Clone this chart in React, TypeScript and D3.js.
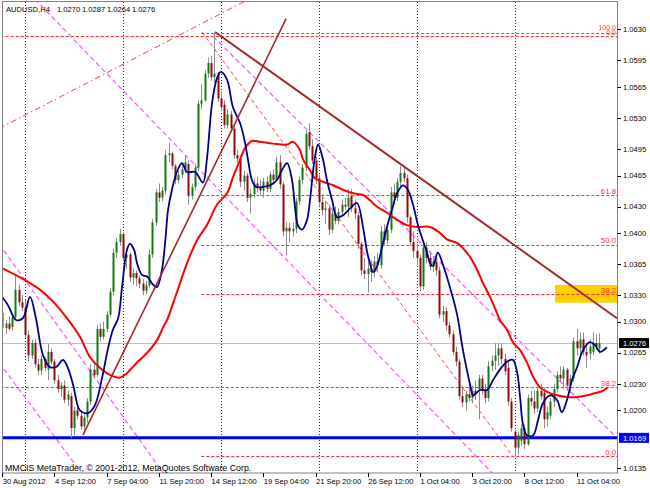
import React from "react";
import * as d3 from "d3";

// ---------- DATA ----------
const symbolTitle = "AUDUSD,H4";
const lastBarValues = ["1.0270", "1.0287", "1.0264", "1.0276"];
const copyright = "MMCIS MetaTrader, \u00A9 2001-2012, MetaQuotes Software Corp.";

// H4 candles: [open, high, low, close]
const candles: [number, number, number, number][] = [
  [1.0310, 1.0318, 1.0288, 1.0293], [1.0293, 1.0302, 1.0286, 1.0298], [1.0298, 1.0306, 1.0290, 1.0292],
  [1.0294, 1.0310, 1.0290, 1.0305], [1.0305, 1.0352, 1.0302, 1.0336], [1.0336, 1.0342, 1.0318, 1.0322],
  [1.0322, 1.0330, 1.0312, 1.0316], [1.0316, 1.0325, 1.0282, 1.0285], [1.0285, 1.0290, 1.0255, 1.0262],
  [1.0262, 1.0280, 1.0258, 1.0276], [1.0276, 1.0280, 1.0248, 1.0252], [1.0252, 1.0258, 1.0240, 1.0245],
  [1.0245, 1.0262, 1.0240, 1.0258], [1.0258, 1.0260, 1.0244, 1.0248], [1.0246, 1.0275, 1.0234, 1.0266],
  [1.0266, 1.0270, 1.0252, 1.0255], [1.0255, 1.0258, 1.0230, 1.0234], [1.0234, 1.0240, 1.0220, 1.0224],
  [1.0224, 1.0232, 1.0215, 1.0228], [1.0228, 1.0234, 1.0208, 1.0212], [1.0212, 1.0222, 1.0205, 1.0218],
  [1.0216, 1.0220, 1.0169, 1.0180], [1.0180, 1.0204, 1.0172, 1.0200], [1.0200, 1.0208, 1.0190, 1.0194],
  [1.0194, 1.0200, 1.0178, 1.0182], [1.0182, 1.0198, 1.0174, 1.0192], [1.0192, 1.0214, 1.0186, 1.0210],
  [1.0210, 1.0252, 1.0206, 1.0246], [1.0246, 1.0256, 1.0236, 1.0240], [1.0240, 1.0296, 1.0238, 1.0292],
  [1.0292, 1.0298, 1.0278, 1.0283], [1.0283, 1.0300, 1.0280, 1.0292], [1.0292, 1.0312, 1.0288, 1.0308],
  [1.0308, 1.0338, 1.0305, 1.0334], [1.0334, 1.0382, 1.0330, 1.0378], [1.0378, 1.0395, 1.0372, 1.0390],
  [1.0390, 1.0405, 1.0386, 1.0399], [1.0399, 1.0401, 1.0368, 1.0372], [1.0372, 1.0382, 1.0360, 1.0376],
  [1.0376, 1.0378, 1.0345, 1.0350], [1.0350, 1.0360, 1.0342, 1.0355], [1.0355, 1.0358, 1.0340, 1.0349],
  [1.0349, 1.0352, 1.0338, 1.0343], [1.0343, 1.0348, 1.0330, 1.0335], [1.0335, 1.0346, 1.0331, 1.0341],
  [1.0341, 1.0382, 1.0338, 1.0376], [1.0376, 1.0416, 1.0372, 1.0412], [1.0412, 1.0450, 1.0408, 1.0446],
  [1.0446, 1.0456, 1.0435, 1.0440], [1.0440, 1.0452, 1.0436, 1.0448], [1.0448, 1.0494, 1.0444, 1.0488],
  [1.0488, 1.0502, 1.0480, 1.0490], [1.0490, 1.0492, 1.0472, 1.0476], [1.0476, 1.0478, 1.0455, 1.0460],
  [1.0460, 1.0470, 1.0456, 1.0466], [1.0466, 1.0478, 1.0462, 1.0472], [1.0472, 1.0488, 1.0468, 1.0480],
  [1.0478, 1.0482, 1.0432, 1.0442], [1.0442, 1.0456, 1.0438, 1.0452], [1.0452, 1.0478, 1.0448, 1.0474],
  [1.0474, 1.0550, 1.0470, 1.0546], [1.0546, 1.0568, 1.0540, 1.0550], [1.0550, 1.0584, 1.0548, 1.0580],
  [1.0580, 1.0598, 1.0575, 1.0592], [1.0592, 1.0600, 1.0572, 1.0576], [1.0576, 1.0626, 1.0570, 1.0580],
  [1.0580, 1.0582, 1.0548, 1.0552], [1.0552, 1.0560, 1.0538, 1.0542], [1.0545, 1.0550, 1.0518, 1.0522],
  [1.0522, 1.0540, 1.0518, 1.0534], [1.0534, 1.0538, 1.0514, 1.0518], [1.0518, 1.0522, 1.0484, 1.0488],
  [1.0488, 1.0494, 1.0480, 1.0484], [1.0484, 1.0488, 1.0452, 1.0458], [1.0458, 1.0470, 1.0448, 1.0465],
  [1.0465, 1.0468, 1.0435, 1.0440], [1.0440, 1.0450, 1.0422, 1.0444], [1.0444, 1.0462, 1.0440, 1.0456],
  [1.0456, 1.0464, 1.0446, 1.0452], [1.0452, 1.0460, 1.0442, 1.0448], [1.0448, 1.0462, 1.0440, 1.0458],
  [1.0458, 1.0464, 1.0446, 1.0450], [1.0450, 1.0470, 1.0446, 1.0466], [1.0466, 1.0472, 1.0455, 1.0460],
  [1.0460, 1.0486, 1.0458, 1.0480], [1.0480, 1.0488, 1.0450, 1.0455], [1.0455, 1.0458, 1.0396, 1.0402],
  [1.0402, 1.0412, 1.0375, 1.0406], [1.0406, 1.0412, 1.0390, 1.0402], [1.0402, 1.0412, 1.0396, 1.0405],
  [1.0405, 1.0440, 1.0400, 1.0436], [1.0436, 1.0464, 1.0432, 1.0460], [1.0460, 1.0478, 1.0455, 1.0474],
  [1.0474, 1.0516, 1.0470, 1.0512], [1.0514, 1.0524, 1.0494, 1.0498], [1.0498, 1.0506, 1.0478, 1.0482],
  [1.0482, 1.0486, 1.0455, 1.0462], [1.0462, 1.0466, 1.0430, 1.0435], [1.0435, 1.0444, 1.0420, 1.0426],
  [1.0426, 1.0436, 1.0410, 1.0428], [1.0428, 1.0432, 1.0398, 1.0404], [1.0404, 1.0428, 1.0400, 1.0422],
  [1.0422, 1.0430, 1.0410, 1.0414], [1.0414, 1.0428, 1.0410, 1.0424], [1.0424, 1.0438, 1.0420, 1.0432],
  [1.0432, 1.0440, 1.0426, 1.0430], [1.0430, 1.0450, 1.0418, 1.0440], [1.0442, 1.0450, 1.0424, 1.0428],
  [1.0428, 1.0438, 1.0416, 1.0422], [1.0420, 1.0424, 1.0382, 1.0388], [1.0388, 1.0390, 1.0352, 1.0358],
  [1.0358, 1.0372, 1.0348, 1.0354], [1.0354, 1.0368, 1.0333, 1.0360], [1.0360, 1.0370, 1.0345, 1.0356],
  [1.0356, 1.0374, 1.0350, 1.0368], [1.0368, 1.0378, 1.0358, 1.0364], [1.0364, 1.0408, 1.0360, 1.0402],
  [1.0402, 1.0410, 1.0386, 1.0392], [1.0392, 1.0410, 1.0388, 1.0404], [1.0404, 1.0452, 1.0400, 1.0446],
  [1.0446, 1.0456, 1.0432, 1.0440], [1.0440, 1.0462, 1.0436, 1.0458], [1.0458, 1.0476, 1.0452, 1.0468],
  [1.0468, 1.0474, 1.0458, 1.0462], [1.0462, 1.0466, 1.0412, 1.0418], [1.0418, 1.0420, 1.0386, 1.0390],
  [1.0390, 1.0402, 1.0372, 1.0380], [1.0380, 1.0388, 1.0364, 1.0372], [1.0372, 1.0376, 1.0334, 1.0340],
  [1.0340, 1.0388, 1.0336, 1.0384], [1.0384, 1.0390, 1.0366, 1.0372], [1.0372, 1.0380, 1.0358, 1.0362],
  [1.0362, 1.0374, 1.0356, 1.0368], [1.0368, 1.0372, 1.0352, 1.0358], [1.0358, 1.0362, 1.0304, 1.0308],
  [1.0308, 1.0318, 1.0300, 1.0312], [1.0312, 1.0316, 1.0290, 1.0296], [1.0296, 1.0300, 1.0282, 1.0286],
  [1.0286, 1.0290, 1.0262, 1.0266], [1.0266, 1.0272, 1.0250, 1.0255], [1.0255, 1.0258, 1.0212, 1.0216],
  [1.0216, 1.0228, 1.0204, 1.0209], [1.0209, 1.0222, 1.0200, 1.0218], [1.0218, 1.0230, 1.0210, 1.0214],
  [1.0214, 1.0228, 1.0208, 1.0222], [1.0222, 1.0234, 1.0212, 1.0218], [1.0224, 1.0240, 1.0190, 1.0236],
  [1.0236, 1.0240, 1.0218, 1.0224], [1.0224, 1.0230, 1.0208, 1.0214], [1.0214, 1.0256, 1.0210, 1.0250],
  [1.0250, 1.0262, 1.0244, 1.0256], [1.0256, 1.0276, 1.0246, 1.0262], [1.0262, 1.0276, 1.0250, 1.0270],
  [1.0270, 1.0276, 1.0252, 1.0258], [1.0258, 1.0264, 1.0240, 1.0244], [1.0248, 1.0256, 1.0205, 1.0210],
  [1.0210, 1.0214, 1.0176, 1.0180], [1.0176, 1.0178, 1.0148, 1.0158], [1.0158, 1.0176, 1.0150, 1.0172],
  [1.0166, 1.0184, 1.0160, 1.0180], [1.0180, 1.0184, 1.0156, 1.0162], [1.0162, 1.0218, 1.0160, 1.0214],
  [1.0214, 1.0222, 1.0205, 1.0210], [1.0210, 1.0222, 1.0196, 1.0202], [1.0202, 1.0226, 1.0198, 1.0222],
  [1.0222, 1.0230, 1.0212, 1.0216], [1.0220, 1.0226, 1.0180, 1.0190], [1.0190, 1.0204, 1.0182, 1.0198],
  [1.0194, 1.0214, 1.0190, 1.0210], [1.0210, 1.0230, 1.0204, 1.0224], [1.0224, 1.0244, 1.0220, 1.0240],
  [1.0240, 1.0250, 1.0232, 1.0236], [1.0236, 1.0250, 1.0224, 1.0246], [1.0246, 1.0248, 1.0222, 1.0228],
  [1.0228, 1.0240, 1.0220, 1.0236], [1.0236, 1.0282, 1.0232, 1.0278], [1.0278, 1.0292, 1.0262, 1.0270],
  [1.0270, 1.0288, 1.0264, 1.0280], [1.0280, 1.0288, 1.0262, 1.0266], [1.0266, 1.0276, 1.0248, 1.0262],
  [1.0264, 1.0280, 1.0258, 1.0272], [1.0266, 1.0288, 1.0262, 1.0276], [1.0276, 1.0286, 1.0268, 1.0272],
  [1.0270, 1.0287, 1.0264, 1.0276],
];

// Fast moving average (navy) : [bar index, price]
const blueMA: [number, number][] = [
  [0, 1.0328], [1.7, 1.0319], [4.2, 1.0302], [6.3, 1.0304], [8.5, 1.0328], [10.3, 1.0304], [12.5, 1.0262],
  [14.6, 1.0249], [16.5, 1.0249], [18.6, 1.0257], [20.1, 1.0248], [21.7, 1.0229], [23.8, 1.0200], [26.3, 1.0197],
  [28.4, 1.0206], [30.6, 1.0237], [32.4, 1.0270], [33.9, 1.0291], [35.5, 1.0304], [36.7, 1.0339], [38.2, 1.0381],
  [39.1, 1.0388], [40.4, 1.0381], [41.3, 1.0366], [42.8, 1.0353], [44.4, 1.0351], [46.2, 1.0342], [47.4, 1.0339],
  [48.9, 1.0358], [49.9, 1.0389], [50.8, 1.0426], [52, 1.0449], [53.5, 1.0469], [55.1, 1.0479], [56.6, 1.0469],
  [59.1, 1.0469], [61.5, 1.0457], [62.7, 1.0483], [64.3, 1.0547], [65.8, 1.0575], [67, 1.0582], [68.9, 1.0573],
  [70.7, 1.0542], [72.9, 1.0524], [74.4, 1.0502], [75.3, 1.0483], [76.5, 1.0460], [77.8, 1.0452], [79.6, 1.0452],
  [82.1, 1.0454], [84.2, 1.0460], [85.7, 1.0471], [87.3, 1.0479], [88.8, 1.0460], [89.7, 1.0430], [90.6, 1.0409],
  [91.9, 1.0404], [93.4, 1.0415], [94.3, 1.0437], [95.2, 1.0468], [95.8, 1.0485], [96.8, 1.0500], [98.3, 1.0483],
  [99.5, 1.0460], [101.1, 1.0437], [102.6, 1.0418], [104.4, 1.0420], [106.6, 1.0428], [108.7, 1.0434],
  [110.6, 1.0406], [111.8, 1.0379], [112.7, 1.0366], [113.6, 1.0356], [114.8, 1.0362], [116.4, 1.0384],
  [117.9, 1.0407], [119.4, 1.0426], [121, 1.0445], [122.8, 1.0454], [124.3, 1.0449], [125.9, 1.0432],
  [127.4, 1.0409], [128.9, 1.0392], [130.2, 1.0378], [131.1, 1.0366], [132, 1.0363], [133.5, 1.0378],
  [135.1, 1.0364], [137.2, 1.0339], [139.4, 1.0308], [141.2, 1.0268], [143.4, 1.0229], [144.3, 1.0217],
  [146.4, 1.0223], [148.6, 1.0223], [150.4, 1.0234], [152.5, 1.0246], [154.7, 1.0255], [156.5, 1.0257],
  [157.8, 1.0243], [158.7, 1.0215], [159.6, 1.0184], [160.8, 1.0172], [162.7, 1.0172], [164.2, 1.0189],
  [165.7, 1.0208], [167.9, 1.0217], [170, 1.0212], [171.5, 1.0198], [173.1, 1.0212], [174.6, 1.0234],
  [176.2, 1.0249], [178, 1.0268], [180.1, 1.0277], [181.6, 1.0274], [183.2, 1.0266], [185.3, 1.0271],
];

// Slow moving average (red) : [bar index, price]
const redMA: [number, number][] = [
  [0.2, 1.0360], [7, 1.0347], [11.6, 1.0336], [15.5, 1.0323], [19.8, 1.0304], [23.8, 1.0283], [26.9, 1.0260],
  [29.9, 1.0248], [33, 1.0240], [36.1, 1.0237], [38.2, 1.0242], [41.3, 1.0254], [44.4, 1.0265], [47.4, 1.0279],
  [49.3, 1.0294], [50.5, 1.0302], [53.5, 1.0333], [56.6, 1.0366], [59.7, 1.0392], [62.7, 1.0409], [65.8, 1.0432],
  [68.9, 1.0445], [70.7, 1.0463], [72.9, 1.0483], [74.4, 1.0496], [76.5, 1.0504], [79, 1.0503], [83, 1.0501],
  [87.3, 1.0500], [89.1, 1.0503], [91.2, 1.0494], [92.2, 1.0483], [94.3, 1.0471], [95.8, 1.0462], [98.3, 1.0458],
  [101.4, 1.0454], [104.4, 1.0449], [107.5, 1.0445], [110.6, 1.0443], [112.7, 1.0437], [114.8, 1.0430],
  [117.9, 1.0423], [121, 1.0415], [124, 1.0409], [127.1, 1.0407], [131.1, 1.0407], [134.2, 1.0400],
  [136.3, 1.0393], [139.4, 1.0389], [141.2, 1.0383], [143.4, 1.0373], [145.5, 1.0359], [147.3, 1.0344],
  [149.5, 1.0328], [151.6, 1.0310], [152.5, 1.0302], [154.7, 1.0291], [156.5, 1.0277], [158.7, 1.0268],
  [160.8, 1.0254], [162.7, 1.0238], [164.8, 1.0226], [167, 1.0221], [170, 1.0217], [173.1, 1.0215],
  [176.2, 1.0215], [179.2, 1.0217], [182.3, 1.0220], [184.1, 1.0222], [185.6, 1.0226],
];

const priceTicks = [1.0630, 1.0595, 1.0565, 1.0530, 1.0495, 1.0465, 1.0430, 1.0400, 1.0365, 1.0330,
  1.0300, 1.0265, 1.0230, 1.0200, 1.0135];
const dateTickBars = [0, 16, 32, 48, 64, 80, 96, 112, 128, 144, 160, 176];
const dateTickLabels = ["30 Aug 2012", "4 Sep 12:00", "7 Sep 04:00", "11 Sep 20:00", "14 Sep 12:00",
  "19 Sep 04:00", "21 Sep 20:00", "26 Sep 12:00", "1 Oct 04:00", "3 Oct 20:00", "8 Oct 12:00", "11 Oct 04:00"];
const weekStartBars = [7, 37, 67, 97, 127, 157];

// Fibonacci levels: label, price, first bar, label lift above the line, label size
const fibLevels = [
  { label: "100.0", price: 1.0626, from: 61, lift: 3, size: 7 },
  { label: "61.8", price: 1.0443, from: 61, lift: 1.5, size: 7.8 },
  { label: "50.0", price: 1.0387, from: 61, lift: 1.5, size: 7.8 },
  { label: "38.2", price: 1.0331, from: 61, lift: 1.5, size: 7.8 },
  { label: "0.0", price: 1.0148, from: 61, lift: 1.5, size: 7.8 },
  { label: "0.0", price: 1.0623, from: -2, lift: 0.2, size: 7 },
  { label: "38.2", price: 1.0226, from: -2, lift: 1.5, size: 7.8 },
];

// Trend lines: [bar1, price1, bar2, price2]
const resistanceLine = [65.2, 1.0627, 188.4, 1.0304];
const supportLine = [24.7, 1.0172, 87.0, 1.0642];
const dashDotLine = [-1, 1.0518, 74.5, 1.0662];
const fibBaseLine = [61.2, 1.0627, 156.5, 1.0148];
const channelLines = [
  [10, 1.0664, 155, 1.0111],
  [64.6, 1.0622, 190, 1.0163],
  [-1, 1.0388, 50, 1.0126],
  [-1, 1.0254, 24, 1.0131],
];
const zoneBox = { fromBar: 169.4, toBar: 192, top: 1.03415, bottom: 1.03215 };
const supportLevel = 1.0169;
const bidPrice = 1.0276;

// ---------- CHART ----------
const FONT = "'Liberation Sans', Arial, sans-serif";
const PL = 2, PR = 617.5, PT = 2, PB = 473;

export default function App() {
  const x = d3.scaleLinear().domain([0, 183]).range([2.3, 2.3 + 183 * 3.2625]);
  const y = d3.scaleLinear().domain([1.0135, 1.0630]).range([468, 29.3]);

  const maLine = d3.line<[number, number]>()
    .x((d) => x(d[0]))
    .y((d) => y(d[1]))
    .curve(d3.curveCatmullRom.alpha(0.5));

  const seg = (l: number[]) => ({ x1: x(l[0]), y1: y(l[1]), x2: x(l[2]), y2: y(l[3]) });

  return (
    <svg width={650} height={488} style={{ position: "absolute", left: 0, top: 0, background: "#fff" }}
      fontFamily={FONT}>
      <defs>
        <clipPath id="plot">
          <rect x={PL} y={PT} width={PR - PL} height={PB - PT} />
        </clipPath>
      </defs>
      <rect x={0} y={0} width={650} height={488} fill="#fff" />

      <g clipPath="url(#plot)">
        {/* week grid */}
        {weekStartBars.map((b) => (
          <line key={"g" + b} x1={Math.round(x(b)) + 0.5} x2={Math.round(x(b)) + 0.5} y1={PT} y2={PB}
            stroke="#333" strokeWidth={1} strokeDasharray="1,2" />
        ))}

        {/* yellow zone */}
        <rect x={x(zoneBox.fromBar)} y={y(zoneBox.top)} width={x(zoneBox.toBar) - x(zoneBox.fromBar)}
          height={y(zoneBox.bottom) - y(zoneBox.top)} fill="#FFD000" />

        {/* fib levels */}
        {fibLevels.map((f, k) => (
          <line key={"f" + k} x1={x(f.from)} x2={PR} y1={Math.round(y(f.price)) + 0.5} y2={Math.round(y(f.price)) + 0.5}
            stroke="#FF3030" strokeWidth={1} strokeDasharray="3,2" />
        ))}

        {/* channel lines */}
        {channelLines.map((l, k) => (
          <line key={"c" + k} {...seg(l)} stroke="#FF55FF" strokeWidth={1.2} strokeDasharray="5,3" />
        ))}

        {/* dash-dot line and fib base */}
        <line {...seg(dashDotLine)} stroke="#FF4040" strokeWidth={1} strokeDasharray="6,3,1.5,3" />
        <line {...seg(fibBaseLine)} stroke="#FF4040" strokeWidth={1} strokeDasharray="4,3" />

        {/* bid line */}
        <line x1={PL} x2={PR} y1={Math.round(y(bidPrice)) + 0.5} y2={Math.round(y(bidPrice)) + 0.5}
          stroke="#C0C0C0" strokeWidth={1} />
        {/* support level */}
        <line x1={PL} x2={PR} y1={y(supportLevel)} y2={y(supportLevel)} stroke="#0000FF" strokeWidth={3} />

        {/* candles */}
        {candles.map((c, i) => {
          const [o, h, l, cl] = c;
          const cx = Math.round(x(i));
          const top = y(Math.max(o, cl));
          const bot = y(Math.min(o, cl));
          const up = cl >= o;
          return (
            <g key={"k" + i}>
              <line x1={cx + 0.5} x2={cx + 0.5} y1={y(h)} y2={y(l)} stroke="#8C8C8C" strokeWidth={1} />
              <rect x={cx - 0.5} y={top} width={2} height={Math.max(1, bot - top)} fill={up ? "#137A13" : "#8E0A0A"} />
            </g>
          );
        })}

        {/* moving averages */}
        <path d={maLine(redMA) || ""} fill="none" stroke="#FF0000" strokeWidth={2} />
        <path d={maLine(blueMA) || ""} fill="none" stroke="#00008B" strokeWidth={1.8} />

        {/* trend lines */}
        <line {...seg(supportLine)} stroke="#A52A2A" strokeWidth={1.6} />
        <line {...seg(resistanceLine)} stroke="#A52A2A" strokeWidth={2} />
      </g>

      {/* fib labels */}
      {fibLevels.map((f, k) => (
        <text key={"fl" + k} x={616} y={y(f.price) - f.lift} textAnchor="end" fontSize={f.size} fill="#FF3030">{f.label}</text>
      ))}

      {/* frame */}
      <rect x={PL + 0.5} y={PT - 0.5} width={PR - PL - 0.5} height={PB - PT + 0.5} fill="none" stroke="#808080" strokeWidth={1} />

      {/* price axis */}
      {priceTicks.map((p) => (
        <g key={"p" + p}>
          <line x1={PR} x2={621} y1={Math.round(y(p)) + 0.5} y2={Math.round(y(p)) + 0.5} stroke="#000" strokeWidth={1} />
          <text x={623} y={y(p) + 2.7} fontSize={7.6} fill="#000">{p.toFixed(4)}</text>
        </g>
      ))}
      <rect x={619} y={y(bidPrice) - 5} width={30} height={10} fill="#000" />
      <text x={623} y={y(bidPrice) + 2.7} fontSize={7.6} fill="#fff">{bidPrice.toFixed(4)}</text>
      <rect x={619} y={y(supportLevel) - 5} width={30} height={10} fill="#0000FF" />
      <text x={623} y={y(supportLevel) + 2.7} fontSize={7.6} fill="#fff">{supportLevel.toFixed(4)}</text>

      {/* time axis */}
      {dateTickBars.map((b, k) => (
        <g key={"d" + b}>
          <line x1={Math.round(x(b)) + 0.5} x2={Math.round(x(b)) + 0.5} y1={PB} y2={PB + 4} stroke="#000" />
          <text x={x(b) + 0.5} y={484} fontSize={7.6} fill="#000">{dateTickLabels[k]}</text>
        </g>
      ))}

      {/* header and copyright */}
      <text x={6} y={12} fontSize={7.6} fill="#000">{symbolTitle}</text>
      {lastBarValues.map((v, k) => (
        <text key={"h" + k} x={57 + k * 25} y={12} fontSize={7.6} fill="#000">{v}</text>
      ))}
      <text x={5} y={471} fontSize={8.8} fill="#000">{copyright}</text>
    </svg>
  );
}
